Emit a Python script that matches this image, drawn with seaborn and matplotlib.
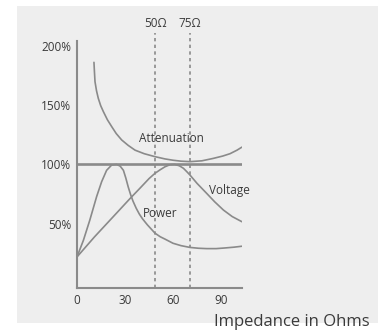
import matplotlib
matplotlib.use("Agg")
import matplotlib.pyplot as plt
from matplotlib.patches import Rectangle
import seaborn as sns
import pandas as pd

# Curves: relative value (%) versus line impedance (Ohms)
attenuation_x = [10.6, 10.9, 11.25, 12.2, 13.3, 14.8, 16.5, 19, 21.7, 24.5, 27.9, 32,
                 36.25, 42, 48.75, 55, 60, 65, 70.6, 78, 85, 91, 95.6, 100, 103]
attenuation_y = [186, 178, 169.7, 162, 155.7, 149.5, 144.4, 137.6, 131.8, 126, 120.6, 116,
                 112, 109, 106.5, 104.6, 103.5, 102.7, 102.3, 103, 105, 107, 109, 112, 114.5]

power_x = [0, 4, 8, 12.3, 15.4, 18.5, 21.7, 24.8, 27, 29, 30.5, 32, 33.5, 35, 37,
           39, 41, 44, 48.75, 52, 55, 60, 65, 70.6, 76, 81, 87, 92, 98, 103]
power_y = [22, 36, 53, 73, 85.4, 95, 99.5, 100, 98.5, 95, 88.5, 81, 74.5, 69, 63,
           58, 54, 49, 42, 39, 37, 33.5, 31.5, 30, 29.3, 29, 29, 29.5, 30.2, 31]

voltage_x = [0, 11, 22.7, 33, 39.4, 45, 48.75, 52, 55, 58, 61, 64, 66.5, 68.5, 70.6,
             75, 81, 86, 91.5, 97, 103]
voltage_y = [22, 39, 56, 71, 80, 88, 92.5, 95.5, 98, 99.7, 100, 98.8, 96.7, 94, 91,
             84, 75.6, 68.5, 61.5, 56, 51.7]

reference_level = 100
marker_x = [48.75, 70.6]
marker_labels = ["50Ω", "75Ω"]

x_ticks = [0, 30, 60, 90]
y_ticks = [50, 100, 150, 200]
y_tick_labels = ["50%", "100%", "150%", "200%"]

curve_names = ["Attenuation", "Power", "Voltage"]

sns.set_style("white")
plt.rcParams["font.family"] = ["Open Sans", "DejaVu Sans"]

LINE = "#8a8a8a"
TEXT = "#3a3a3a"
BG = "#eeeeee"

fig = plt.figure(figsize=(3.78, 3.33), dpi=100)
fig.patch.set_facecolor("white")
fig.patches.append(Rectangle((17 / 378, 10 / 333), 1 - 17 / 378, 1 - 16 / 333,
                             transform=fig.transFigure, facecolor=BG,
                             edgecolor="none", zorder=-10))

ax = fig.add_axes([77 / 378, 45 / 333, 165 / 378, 247 / 333])
ax.set_facecolor("none")

frames = [
    pd.DataFrame({"x": attenuation_x, "y": attenuation_y, "curve": curve_names[0]}),
    pd.DataFrame({"x": power_x, "y": power_y, "curve": curve_names[1]}),
    pd.DataFrame({"x": voltage_x, "y": voltage_y, "curve": curve_names[2]}),
]
for df in frames:
    sns.lineplot(data=df, x="x", y="y", ax=ax, color=LINE, linewidth=1.2,
                 sort=False, legend=False, solid_joinstyle="round")

ax.axhline(reference_level, xmin=0, xmax=1, color=LINE, linewidth=1.9)

for xv, lab in zip(marker_x, marker_labels):
    ax.plot([xv, xv], [-4.2, 211], color=LINE, linewidth=1.2,
            linestyle=(0, (2, 2)), clip_on=False)
    ax.text(xv, 213, lab, ha="center", va="bottom", fontsize=8.5, color=TEXT,
            clip_on=False)

ax.text(59, 122, "Attenuation", ha="center", va="center", fontsize=8.5, color=TEXT)
ax.text(95, 77.6, "Voltage", ha="center", va="center", fontsize=8.5, color=TEXT)
ax.text(52, 59, "Power", ha="center", va="center", fontsize=8.5, color=TEXT)

ax.set_xlim(0, 103.1)
ax.set_ylim(-4.2, 204)
ax.set_xticks(x_ticks)
ax.set_yticks(y_ticks)
ax.set_yticklabels(y_tick_labels)
ax.tick_params(length=0, labelsize=8.5, labelcolor=TEXT, pad=4)
ax.set_xlabel("")
ax.set_ylabel("")

for side in ["top", "right"]:
    ax.spines[side].set_visible(False)
for side in ["left", "bottom"]:
    ax.spines[side].set_color(LINE)
    ax.spines[side].set_linewidth(1.5)

fig.text(370 / 378, 1 - 322 / 333, "Impedance in Ohms", ha="right", va="center",
         fontsize=12, color=TEXT)

fig.savefig("out.png", dpi=100)
